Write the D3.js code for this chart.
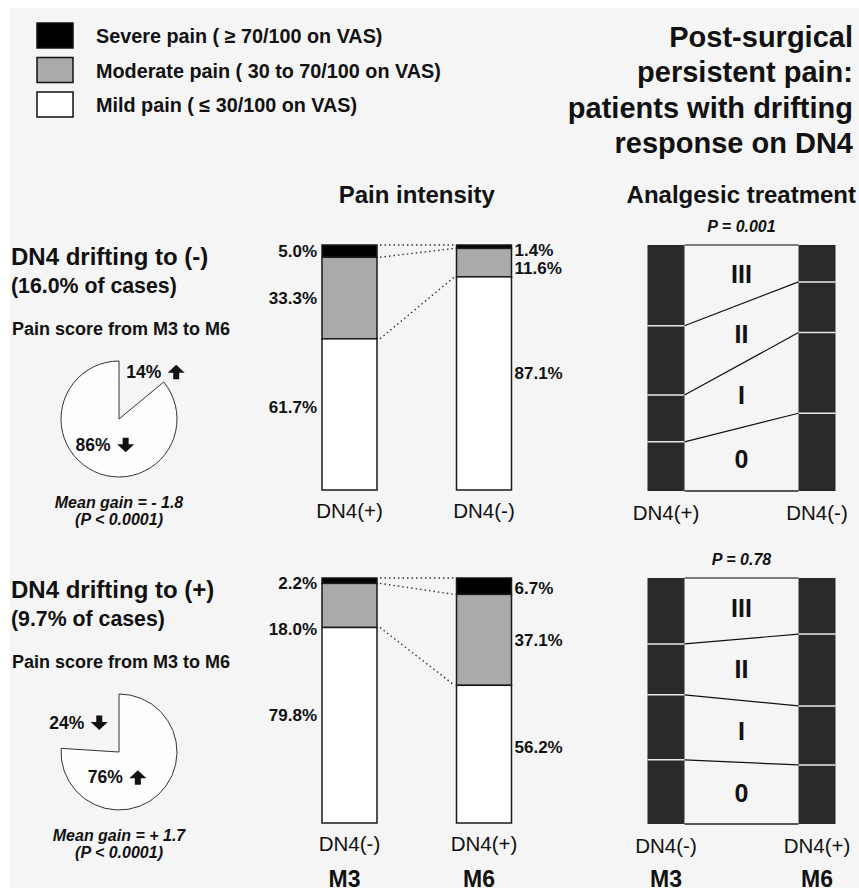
<!DOCTYPE html>
<html>
<head>
<meta charset="utf-8">
<script src="https://cdn.jsdelivr.net/npm/d3@7"></script>
<style>
  body { margin: 0; background: #fff; }
  svg text { font-family: "Liberation Sans", Arial, Helvetica, sans-serif; fill: #111; }
</style>
</head>
<body>
<svg id="chart" width="859" height="888"></svg>
<script>
// ---- data ----
const severityLabels = ["Severe pain ( \u2265 70/100 on VAS)", "Moderate pain ( 30 to 70/100 on VAS)", "Mild pain ( \u2264 30/100 on VAS)"];
const severityColors = ["#000000", "#aaaaaa", "#ffffff"];

const titleLines = ["Post-surgical", "persistent pain:", "patients with drifting", "response on DN4"];

const groupTitles = ["DN4 drifting to (-)", "DN4 drifting to (+)"];
const groupShares = ["(16.0% of cases)", "(9.7% of cases)"];
// share of patients whose pain score went up / down from M3 to M6
const pieUp = [14, 76];
const pieDown = [86, 24];
const meanGain = ["Mean gain = - 1.8", "Mean gain = + 1.7"];
const meanGainP = ["(P < 0.0001)", "(P < 0.0001)"];

const timepoints = ["M3", "M6"];
const dn4Labels = [["DN4(+)", "DN4(-)"], ["DN4(-)", "DN4(+)"]];
// pain intensity (%): severe, moderate, mild
const painM3 = [[5.0, 33.3, 61.7], [2.2, 18.0, 79.8]];
const painM6 = [[1.4, 11.6, 87.1], [6.7, 37.1, 56.2]];

// analgesic treatment level (%), from top: III, II, I, 0
const treatLevels = ["III", "II", "I", "0"];
const treatM3 = [[32.8, 28.2, 19.0, 20.0], [26.8, 20.7, 26.4, 26.1]];
const treatM6 = [[15.0, 20.6, 32.8, 31.6], [22.8, 29.2, 24.0, 24.0]];
const treatP = ["P = 0.001", "P = 0.78"];

// ---- drawing ----
const svg = d3.select("#chart");

svg.append("rect")
    .attr("x", 10).attr("y", 8)
    .attr("width", 849).attr("height", 880)
    .attr("fill", "#f5f5f5");

// legend
const legend = svg.append("g").attr("transform", "translate(37,23)");
severityLabels.forEach((lab, i) => {
    const g = legend.append("g").attr("transform", `translate(0,${i * 34.5})`);
    g.append("rect")
        .attr("width", 36).attr("height", 25)
        .attr("fill", severityColors[i])
        .attr("stroke", "#111").attr("stroke-width", 1.5);
    g.append("text")
        .attr("x", 59).attr("y", 20)
        .attr("font-size", 19.8).attr("font-weight", "bold")
        .text(lab);
});

// title
titleLines.forEach((t, i) => {
    svg.append("text")
        .attr("x", 853).attr("y", 47 + i * 35.4)
        .attr("text-anchor", "end")
        .attr("font-size", 29).attr("font-weight", "bold")
        .text(t);
});

const xBar = d3.scalePoint().domain(timepoints).range([349.5, 484]);
const barW = 55;
const xT = d3.scalePoint().domain(timepoints).range([666, 817]);
const tW = 37;

svg.append("text")
    .attr("x", (xBar("M3") + xBar("M6")) / 2).attr("y", 203)
    .attr("text-anchor", "middle")
    .attr("font-size", 24).attr("font-weight", "bold")
    .text("Pain intensity");

svg.append("text")
    .attr("x", 856).attr("y", 203)
    .attr("text-anchor", "end")
    .attr("font-size", 24).attr("font-weight", "bold")
    .text("Analgesic treatment");

const arrowPath = "M0,-7L8.5,1L3,1L3,7.5L-3,7.5L-3,1L-8.5,1Z";

// small tweaks for label placement
const labelDy = [[[0, 0, 0], [3, 5, 0]], [[2, 24, 0], [2, 0, 0]]];
const pieLabelShift = [[[16, 0], [0, 0]], [[-20, 4], [-3, 9]]];

function cumulate(vals) {
    let c = 0;
    return vals.map(v => ({ v, y0: c, y1: (c += v) }));
}

[245, 578].forEach((top, gi) => {
    // --- left column: group header and pie ---
    svg.append("text")
        .attr("x", 11).attr("y", top + 20)
        .attr("font-size", 24).attr("font-weight", "bold")
        .text(groupTitles[gi]);
    svg.append("text")
        .attr("x", 11).attr("y", top + 48)
        .attr("font-size", 21.3).attr("font-weight", "bold")
        .text(groupShares[gi]);
    svg.append("text")
        .attr("x", 12).attr("y", top + 90)
        .attr("font-size", 18).attr("font-weight", "bold")
        .text("Pain score from M3 to M6");

    const r = 58;
    const pieG = svg.append("g").attr("transform", `translate(119,${top + 174})`);
    const slices = d3.pie().sort(null).value(d => d.v)([
        { v: pieUp[gi], dir: "up" },
        { v: pieDown[gi], dir: "down" }
    ]);
    const arc = d3.arc().innerRadius(0).outerRadius(r);
    const big = d3.max(slices, s => s.value);
    slices.forEach((s, si) => {
        const isBig = s.value === big;
        if (isBig) {
            pieG.append("path")
                .attr("d", arc(s))
                .attr("fill", "#fdfdfd")
                .attr("stroke", "#333").attr("stroke-width", 1);
        }
        const rad = isBig ? r * 0.5 : r * 0.9;
        const c = d3.arc().innerRadius(rad).outerRadius(rad).centroid(s);
        const sh = pieLabelShift[gi][si];
        const lg = pieG.append("g").attr("transform", `translate(${c[0] + sh[0]},${c[1] + sh[1]})`);
        lg.append("text")
            .attr("x", 4).attr("dy", "0.35em")
            .attr("text-anchor", "end")
            .attr("font-size", 17.5).attr("font-weight", "bold")
            .text(s.data.v + "%");
        lg.append("path")
            .attr("d", arrowPath)
            .attr("transform", `translate(19,0) scale(1,${s.data.dir === "up" ? 1 : -1})`)
            .attr("fill", "#111");
    });

    svg.append("text")
        .attr("x", 119).attr("y", top + 263)
        .attr("text-anchor", "middle")
        .attr("font-size", 16).attr("font-weight", "bold").attr("font-style", "italic")
        .text(meanGain[gi]);
    svg.append("text")
        .attr("x", 119).attr("y", top + 280)
        .attr("text-anchor", "middle")
        .attr("font-size", 16).attr("font-weight", "bold").attr("font-style", "italic")
        .text(meanGainP[gi]);

    // --- middle column: pain intensity stacked bars ---
    const y = d3.scaleLinear().domain([0, 100]).range([top, top + 245]);
    const stacks = [cumulate(painM3[gi]), cumulate(painM6[gi])];

    // dotted connectors between the bars
    const joins = [0, stacks[0][0].y1, stacks[0][1].y1];
    const joinsR = [0, stacks[1][0].y1, stacks[1][1].y1];
    joins.forEach((v, k) => {
        svg.append("line")
            .attr("x1", xBar("M3") + barW / 2 + 3).attr("y1", y(v))
            .attr("x2", xBar("M6") - barW / 2 - 2).attr("y2", y(joinsR[k]))
            .attr("stroke", "#333").attr("stroke-width", 1.4)
            .attr("stroke-dasharray", "1.5,3");
    });

    stacks.forEach((segs, ti) => {
        const t = timepoints[ti];
        const x0 = xBar(t) - barW / 2;
        svg.selectAll(null)
            .data(segs)
            .join("rect")
            .attr("x", x0)
            .attr("y", d => y(d.y0))
            .attr("width", barW)
            .attr("height", d => y(Math.min(d.y1, 100)) - y(d.y0))
            .attr("fill", (d, k) => severityColors[k])
            .attr("stroke", "#1a1a1a").attr("stroke-width", 1.5);

        segs.forEach((d, k) => {
            const frac = k === 2 ? 0.45 : 0.5;
            const yy = y(d.y0) + frac * (y(Math.min(d.y1, 100)) - y(d.y0)) + labelDy[gi][ti][k];
            svg.append("text")
                .attr("x", ti === 0 ? x0 - 5 : x0 + barW + 3)
                .attr("y", yy).attr("dy", "0.35em")
                .attr("text-anchor", ti === 0 ? "end" : "start")
                .attr("font-size", 17).attr("font-weight", "bold")
                .text(d.v.toFixed(1) + "%");
        });

        svg.append("text")
            .attr("x", xBar(t)).attr("y", top + 273)
            .attr("text-anchor", "middle")
            .attr("font-size", 20.5)
            .text(dn4Labels[gi][ti]);
    });

    // --- right column: analgesic treatment ---
    const yT = d3.scaleLinear().domain([0, 100]).range([top, top + 246]);
    const tStacks = [cumulate(treatM3[gi]), cumulate(treatM6[gi])];
    const innerL = xT("M3") + tW / 2;
    const innerR = xT("M6") - tW / 2;

    svg.append("text")
        .attr("x", (innerL + innerR) / 2).attr("y", top - 13)
        .attr("text-anchor", "middle")
        .attr("font-size", 16).attr("font-weight", "bold").attr("font-style", "italic")
        .text(treatP[gi]);

    [0, 100].forEach(v => {
        svg.append("line")
            .attr("x1", innerL).attr("x2", innerR)
            .attr("y1", yT(v)).attr("y2", yT(v))
            .attr("stroke", v === 0 ? "#555" : "#222").attr("stroke-width", 1.3);
    });

    tStacks.forEach((segs, ti) => {
        const t = timepoints[ti];
        svg.selectAll(null)
            .data(segs)
            .join("rect")
            .attr("x", xT(t) - tW / 2)
            .attr("y", d => yT(d.y0))
            .attr("width", tW)
            .attr("height", d => yT(Math.min(d.y1, 100)) - yT(d.y0))
            .attr("fill", "#2a2a2a");
        segs.slice(1).forEach(d => {
            svg.append("line")
                .attr("x1", xT(t) - tW / 2).attr("x2", xT(t) + tW / 2)
                .attr("y1", yT(d.y0)).attr("y2", yT(d.y0))
                .attr("stroke", "#e8e8e8").attr("stroke-width", 1.5);
        });
        svg.append("text")
            .attr("x", xT(t)).attr("y", top + 275)
            .attr("text-anchor", "middle")
            .attr("font-size", 20.5)
            .text(dn4Labels[gi][ti]);
    });

    // connectors between level boundaries
    tStacks[0].slice(1).forEach((d, k) => {
        svg.append("line")
            .attr("x1", innerL).attr("y1", yT(d.y0))
            .attr("x2", innerR).attr("y2", yT(tStacks[1][k + 1].y0))
            .attr("stroke", "#111").attr("stroke-width", 1.2);
    });

    // level labels in the middle of each band
    treatLevels.forEach((lvl, k) => {
        const topMid = (yT(tStacks[0][k].y0) + yT(tStacks[1][k].y0)) / 2;
        const botMid = (yT(Math.min(tStacks[0][k].y1, 100)) + yT(Math.min(tStacks[1][k].y1, 100))) / 2;
        svg.append("text")
            .attr("x", (innerL + innerR) / 2).attr("y", (topMid + botMid) / 2)
            .attr("dy", "0.35em")
            .attr("text-anchor", "middle")
            .attr("font-size", 25).attr("font-weight", "bold")
            .text(lvl);
    });

    if (gi === 1) {
        timepoints.forEach(t => {
            [xBar(t) - 5, xT(t)].forEach(x => {
                svg.append("text")
                    .attr("x", x).attr("y", 887)
                    .attr("text-anchor", "middle")
                    .attr("font-size", 23).attr("font-weight", "bold")
                    .text(t);
            });
        });
    }
});
</script>
</body>
</html>
